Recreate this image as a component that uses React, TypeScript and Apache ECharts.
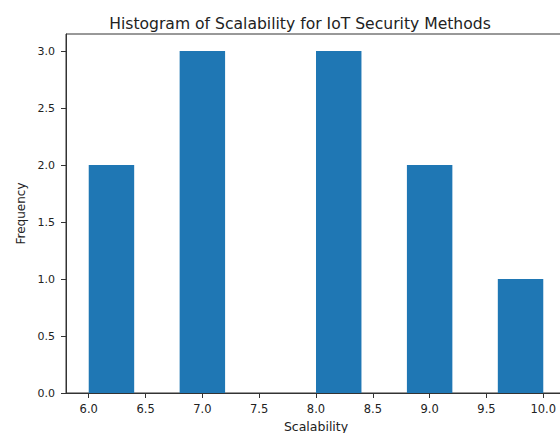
import React, { useEffect, useRef } from "react";
import * as echarts from "echarts";

const binEdges = [6.0, 6.4, 6.8, 7.2, 7.6, 8.0, 8.4, 8.8, 9.2, 9.6, 10.0];
const counts = [2, 0, 3, 0, 0, 3, 0, 2, 0, 1];
const xTicks = [6.0, 6.5, 7.0, 7.5, 8.0, 8.5, 9.0, 9.5, 10.0];
const yTicks = [0.0, 0.5, 1.0, 1.5, 2.0, 2.5, 3.0];
const titleText = "Histogram of Scalability for IoT Security Methods";
const xName = "Scalability";
const yName = "Frequency";

export default function App() {
  const ref = useRef<HTMLDivElement>(null);
  useEffect(() => {
    if (!ref.current) return;
    const chart = echarts.init(ref.current, null, { renderer: "svg" });
    const data = counts.map((c, i) => [binEdges[i], binEdges[i + 1], c]);
    const font = "DejaVu Sans";
    const txt = "#222";
    chart.setOption({
      animation: false,
      backgroundColor: "#fff",
      title: {
        text: titleText,
        left: 295,
        top: 11,
        textAlign: "center",
        textStyle: { fontFamily: font, fontSize: 15.6, fontWeight: "normal", color: txt },
      },
      grid: {
        left: 66, top: 34, width: 500, height: 359,
        outerBoundsMode: "none",
        containLabel: false,
        show: true, borderColor: "#333", borderWidth: 1, backgroundColor: "transparent",
      },
      xAxis: {
        type: "value",
        min: 5.8,
        max: 10.2,
        name: xName,
        nameLocation: "middle",
        nameGap: 27,
        nameTextStyle: { fontFamily: font, fontSize: 12.5, color: txt },
        splitLine: { show: false },
        axisLine: { show: true, lineStyle: { color: "#333", width: 1 } },
        axisTick: { show: true, length: 5, lineStyle: { color: "#333" }, customValues: xTicks },
        axisLabel: {
          fontFamily: font,
          fontSize: 11.5,
          color: txt,
          margin: 10,
          customValues: xTicks,
          formatter: (v: number) => v.toFixed(1),
        },
      },
      yAxis: {
        type: "value",
        min: 0,
        max: 3.15,
        name: yName,
        nameLocation: "middle",
        nameGap: 38,
        nameTextStyle: { fontFamily: font, fontSize: 12, color: txt },
        splitLine: { show: false },
        axisLine: { show: true, lineStyle: { color: "#333", width: 1 } },
        axisTick: { show: true, length: 5, lineStyle: { color: "#333" }, customValues: yTicks },
        axisLabel: {
          fontFamily: font,
          fontSize: 11,
          color: txt,
          margin: 11,
          customValues: yTicks,
          formatter: (v: number) => v.toFixed(1),
        },
      },
      series: [
        {
          type: "custom",
          data,
          encode: { x: [0, 1], y: 2 },
          renderItem: (params: any, api: any) => {
            const x0 = api.value(0);
            const x1 = api.value(1);
            const h = api.value(2);
            const p0 = api.coord([x0, 0]);
            const p1 = api.coord([x1, h]);
            return {
              type: "rect",
              shape: { x: p0[0], y: p1[1], width: p1[0] - p0[0], height: p0[1] - p1[1] },
              style: { fill: "#1f77b4" },
            };
          },
        },
      ],
    });
    return () => chart.dispose();
  }, []);
  return (
    <div
      ref={ref}
      style={{ position: "fixed", left: 0, top: 0, width: 560, height: 433 }}
    />
  );
}
